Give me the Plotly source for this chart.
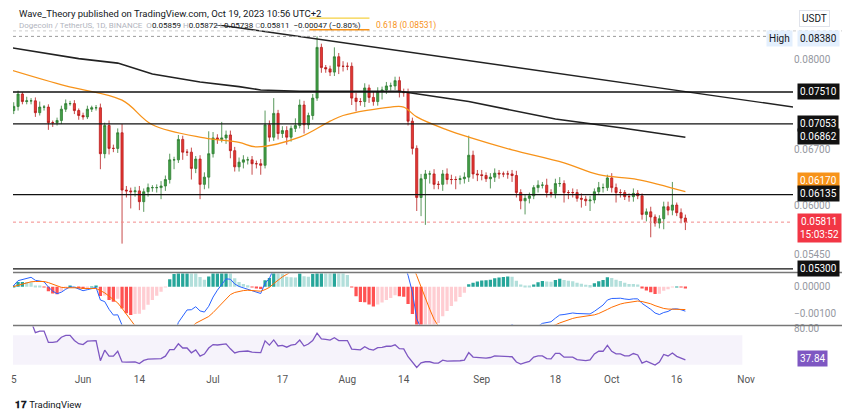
import pandas as pd
import numpy as np
import plotly.graph_objects as go

start_date = "2023-05-15"
close_e5 = [7240,7300,7480,7370,7380,7380,7210,7290,7290,7070,7070,7100,7260,7340,7340,7240,7170,7150,7260,7280,7280,6650,7030,6720,6720,6930,6190,6180,6170,6180,6050,6170,6220,6220,6220,6240,6320,6570,6570,6840,6670,6670,6460,6580,6260,6350,6650,6860,6840,6860,6900,6690,6480,6540,
6570,6570,6520,6520,6500,7040,6870,7200,6920,6960,6870,6990,7030,7320,7040,7170,7420,8200,7880,7860,7810,8050,7900,7900,7900,7420,7370,7370,7570,7430,7370,7520,7540,7600,7600,7680,7510,7500,7090,6720,6100,6330,6390,6390,6260,6260,6390,6320,6320,6320,6330,6350,6630,6390,
6380,6370,6330,6350,6400,6390,6390,6390,6370,6160,6060,6090,6120,6220,6250,6250,6160,6150,6270,6270,6160,6160,6160,6090,6080,6060,6070,6170,6220,6220,6340,6220,6160,6160,6110,6110,6150,6120,5900,5930,5870,5800,5850,5990,5950,6010,5920,5858,5811]
first_open_e5 = 7220
upper_wick_e5 = [40,60,50,30,60,40,50,80,30,40, 30,40,50,60,40,50,30,40,50,30, 40,60,40,70,50,60,120,50,40,50, 60,40,50,30,40,60,50,80,40,60, 50,40,60,40,50,60,300,80,50,220, 60,60,50,60,
60,40,50,40,60,200,60,220,50,60, 60,40,100,80,60,40,60,180,60,40, 50,150,60,80,60,60,80,50,70,50, 80,60,50,60,50,60,60,50,60,50, 40,60,50,40,60,40,50,70,60,40, 40,60,260,60,
50,60,40,50,60,40,30,40,50,60, 40,50,40,30,60,40,80,40,60,80, 40,30,50,40,60,40,50,40,70,50, 40,60,50,40,30,40,60,40,30,40, 60,30,40,60,60,280,30,50,40]
lower_wick_e5 = [40,50,60,40,40,50,60,40,50,100, 60,40,50,40,30,50,60,40,30,40, 40,200,60,80,50,60,620,80,200,60, 100,120,60,50,60,140,60,50,120,40, 100,50,140,60,180,60,140,50,60,40, 80,100,60,60,
80,60,140,60,120,40,60,50,80,60, 100,60,50,40,120,60,60,40,80,60, 60,60,120,80,60,100,140,60,80,80, 60,60,120,60,70,60,80,60,60,80, 160,220,550,120,60,60,80,60,60,120, 60,60,60,60,
80,60,40,120,60,60,40,60,80,60, 100,160,60,40,60,40,60,50,60,40, 120,80,60,40,100,60,120,40,40,60, 40,60,120,60,40,60,60,40,60,80, 230,40,60,120,60,60,40,60,90]

ema50_dates = ["2023-05-15","2023-05-28","2023-06-10","2023-06-17","2023-06-29","2023-07-07","2023-07-11","2023-07-21","2023-07-28","2023-07-31","2023-08-11","2023-08-14","2023-08-17","2023-08-24","2023-08-29","2023-09-08","2023-09-20","2023-09-28","2023-10-07","2023-10-18"]
ema50_vals = [0.0785,0.0760,0.0739,0.0704,0.0686,0.0680,0.0674,0.0687,0.0709,0.0717,0.0729,0.0729,0.0715,0.0697,0.0687,0.0670,0.0653,0.0638,0.0632,0.0617]
ema200_dates = ["2023-05-15","2023-05-31","2023-06-09","2023-06-17","2023-06-28","2023-07-07","2023-07-12","2023-07-21","2023-08-13","2023-08-29","2023-09-18","2023-10-03","2023-10-18"]
ema200_vals = [0.0820,0.0802,0.0795,0.0778,0.0766,0.0759,0.0754,0.0752,0.0752,0.0737,0.0712,0.0700,0.0687]
trend_dates = ["2023-06-20","2023-11-12"]
trend_vals = [0.0870,0.0729]
levels = [0.07510,0.07053,0.06135,0.05300]
high_level = 0.08380
tick_dates = ["2023-05-16","2023-06-01","2023-06-14","2023-07-01","2023-07-17","2023-08-01","2023-08-14","2023-09-01","2023-09-18","2023-10-01","2023-10-16","2023-11-01"]
tick_text = ["5","Jun","14","Jul","17","Aug","14","Sep","18","Oct","16","Nov"]

n = len(close_e5)
dates = pd.date_range(start_date, periods=n, freq="D")
close = np.array(close_e5) / 1e5
open_ = np.concatenate([[first_open_e5 / 1e5], close[:-1]])
high = np.maximum(open_, close) + np.array(upper_wick_e5) / 1e5
low = np.minimum(open_, close) - np.array(lower_wick_e5) / 1e5

s = pd.Series(close)
macd = s.ewm(span=12, adjust=False).mean() - s.ewm(span=26, adjust=False).mean()
sig = macd.ewm(span=9, adjust=False).mean()
hist = macd - sig
hcol = []
for i, h in enumerate(hist):
    prev = hist[i-1] if i else h
    if h >= 0:
        hcol.append("#26a69a" if h >= prev else "#b2dfdb")
    else:
        hcol.append("#ff5252" if h < prev else "#ffcdd2")
d = s.diff()
up = d.clip(lower=0).ewm(alpha=1/14, adjust=False).mean()
dn = (-d.clip(upper=0)).ewm(alpha=1/14, adjust=False).mean()
rsi = 100 - 100 / (1 + up / dn)

fig = go.Figure()
fig.add_trace(go.Scatter(x=ema200_dates, y=ema200_vals, mode="lines", line=dict(color="#222", width=1.6), xaxis="x", yaxis="y"))
fig.add_trace(go.Scatter(x=trend_dates, y=trend_vals, mode="lines", line=dict(color="#222", width=1.4), xaxis="x", yaxis="y"))
fig.add_trace(go.Scatter(x=ema50_dates, y=ema50_vals, mode="lines", line=dict(color="#f7931a", width=1.3, shape="spline"), xaxis="x", yaxis="y"))
fig.add_trace(go.Candlestick(x=dates, open=open_, high=high, low=low, close=close,
    increasing=dict(line=dict(color="#2e7d32", width=0.8), fillcolor="#43a047"),
    decreasing=dict(line=dict(color="#b71c1c", width=0.8), fillcolor="#e53935"),
    whiskerwidth=0, xaxis="x", yaxis="y"))
fig.add_trace(go.Bar(x=dates, y=hist, marker=dict(color=hcol, line=dict(width=0)), xaxis="x2", yaxis="y2"))
fig.add_trace(go.Scatter(x=dates, y=macd, mode="lines", line=dict(color="#2962ff", width=1), xaxis="x2", yaxis="y2"))
fig.add_trace(go.Scatter(x=dates, y=sig, mode="lines", line=dict(color="#ff6d00", width=1), xaxis="x2", yaxis="y2"))
fig.add_trace(go.Scatter(x=dates, y=rsi, mode="lines", line=dict(color="#7e57c2", width=1.3), xaxis="x3", yaxis="y3"))

xr = ["2023-05-15 20:00", "2023-11-11 20:00"]
common_x = dict(range=xr, showgrid=False, zeroline=False, showline=False, type="date")
fig.update_layout(
    width=850, height=409, margin=dict(l=3, r=65, t=17, b=45),
    paper_bgcolor="white", plot_bgcolor="white", showlegend=False, bargap=0.25,
    font=dict(family="Roboto, Arial", size=10, color="#131722"),
    xaxis=dict(**common_x, anchor="y", showticklabels=False, rangeslider=dict(visible=False)),
    xaxis2=dict(**common_x, anchor="y2", matches="x", showticklabels=False),
    xaxis3=dict(**common_x, anchor="y3", matches="x", tickvals=tick_dates, ticktext=tick_text,
                tickfont=dict(size=10, color="#555"), ticks=""),
    yaxis=dict(domain=[0.289, 1], type="log", range=[np.log10(0.0527), np.log10(0.0857)], side="right",
               tickvals=[0.08, 0.067, 0.06, 0.0545], tickformat=".5f", showgrid=False, zeroline=False,
               tickfont=dict(size=10, color="#9598a1")),
    yaxis2=dict(domain=[0.137, 0.284], range=[-0.00142, 0.0005], side="right", tickvals=[0, -0.001],
                ticktext=["0.00000", "−0.00100"], showgrid=False, zeroline=False, tickfont=dict(size=10, color="#9598a1")),
    yaxis3=dict(domain=[0, 0.131], range=[20, 82], side="right", tickvals=[80], ticktext=["80.00"],
                showgrid=False, zeroline=False, tickfont=dict(size=10, color="#9598a1")),
)
shapes = []
for lv in levels:
    shapes.append(dict(type="line", xref="paper", x0=0, x1=1, yref="y", y0=lv, y1=lv, line=dict(color="#111", width=1.4)))
shapes.append(dict(type="line", xref="paper", x0=0, x1=1, yref="y", y0=high_level, y1=high_level, line=dict(color="#999", width=1, dash="dot")))
shapes.append(dict(type="line", xref="paper", x0=0, x1=1, yref="y", y0=close[-1], y1=close[-1], line=dict(color="#f28b8b", width=1, dash="dot")))
shapes.append(dict(type="rect", xref="paper", x0=0, x1=0.935, yref="y3", y0=30, y1=70, fillcolor="rgba(126,87,194,0.07)", line=dict(width=0), layer="below"))
for yp in [0.2865, 0.134]:
    shapes.append(dict(type="line", xref="paper", x0=0, x1=1.08, yref="paper", y0=yp, y1=yp, line=dict(color="#777", width=1.5)))
shapes.append(dict(type="line", xref="paper", x0=0, x1=1.08, yref="paper", y0=0.983, y1=0.983, line=dict(color="#ccc", width=1, dash="dot")))
shapes.append(dict(type="line", xref="paper", x0=0.38, x1=0.457, yref="paper", y0=1.02, y1=1.02, line=dict(color="#f5d142", width=1.2)))
shapes.append(dict(type="line", xref="paper", x0=0.38, x1=0.457, yref="paper", y0=0.986, y1=0.986, line=dict(color="#f7931a", width=1.5)))
fig.update_layout(shapes=shapes)

ann = []
def badge(y, text, bg, fg="white", yref="y", shift=0):
    yy = np.log10(y) if yref == "y" else y
    ann.append(dict(xref="paper", x=1, xanchor="left", xshift=4, yref=yref, y=yy, yshift=shift, text=text,
                    showarrow=False, bgcolor=bg, font=dict(color=fg, size=10), borderpad=2))
badge(0.07510, "0.07510", "#111")
badge(0.07053, "0.07053", "#111")
badge(0.06862, "0.06862", "#111", shift=1)
badge(0.06170, "0.06170", "#f7931a", shift=11)
badge(0.06135, "0.06135", "#111", shift=1)
badge(0.05811, "0.05811<br>15:03:52", "#f23645", shift=-6)
badge(0.05300, "0.05300", "#111")
badge(0.08380, "0.08380", "#e3effd", fg="#131722", shift=-2)
badge(37.84, "37.84", "#7e57c2", yref="y3")
ann.append(dict(xref="paper", x=1, xanchor="right", xshift=0, yref="y", y=np.log10(0.0838), yshift=-2, text="High", showarrow=False,
                bgcolor="#e3effd", font=dict(size=10, color="#131722"), borderpad=2))
ann.append(dict(xref="paper", x=1, xanchor="left", xshift=6, yref="paper", y=1, yanchor="middle", yshift=7, text="USDT",
                showarrow=False, bordercolor="#e0e3eb", borderwidth=1, borderpad=2, font=dict(size=10, color="#131722")))
ann.append(dict(xref="paper", x=0.005, xanchor="left", yref="paper", y=1, yanchor="middle", yshift=12, showarrow=False,
                text="Wave_Theory published on TradingView.com, Oct 19, 2023 10:56 UTC+2", font=dict(size=9.5, color="#131722")))
ann.append(dict(xref="paper", x=0.005, xanchor="left", yref="paper", y=1, yanchor="middle", yshift=0, showarrow=False,
                text="<span style='color:#b2b5be'>Dogecoin / TetherUS, 1D, BINANCE  O</span>0.05859 <span style='color:#b2b5be'>H</span>0.05872 <span style='color:#b2b5be'>L</span>0.05738 <span style='color:#b2b5be'>C</span>0.05811  −0.00047 (−0.80%)",
                font=dict(size=8, color="#131722")))
ann.append(dict(xref="paper", x=0.463, xanchor="left", yref="paper", y=1, yanchor="middle", yshift=0, showarrow=False,
                text="0.618 (0.08531)", font=dict(size=8.5, color="#f7931a")))
ann.append(dict(xref="paper", x=0.0, xanchor="left", yref="paper", y=-0.095, yanchor="middle", showarrow=False,
                text="<b>𝟏𝟕</b> TradingView", font=dict(size=9.5, color="#131722")))
fig.update_layout(annotations=ann)
fig.write_html("out.html")
